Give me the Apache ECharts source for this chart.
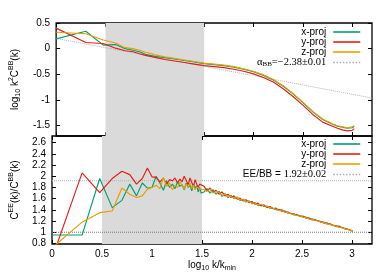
<!DOCTYPE html>
<html><head><meta charset="utf-8">
<script src="https://cdn.jsdelivr.net/npm/echarts@6/dist/echarts.min.js"></script>
<style>html,body{margin:0;padding:0;background:#fff}#c{width:390px;height:273px}</style>
</head><body><div id="c"></div>
<script>
// ---- data ----
const topX = [0, 0.301, 0.477, 0.602, 0.699, 0.778, 0.845, 0.903, 0.954, 1.0, 1.1, 1.2, 1.3, 1.4, 1.5, 1.6, 1.7, 1.8, 1.9, 2.0, 2.1, 2.2, 2.3, 2.4, 2.5, 2.6, 2.7, 2.8, 2.85, 2.9, 2.95, 3.0, 3.02];
const topXproj = [0.19,0.34,0.07,0.08,0.00,-0.03,-0.06,-0.11,-0.13,-0.15,-0.175,-0.20,-0.23,-0.26,-0.29,-0.31,-0.33,-0.36,-0.40,-0.45,-0.52,-0.61,-0.73,-0.88,-1.05,-1.23,-1.38,-1.47,-1.51,-1.53,-1.55,-1.54,-1.51];
const topYproj = [0.40,0.12,0.10,0.01,-0.04,-0.06,-0.10,-0.13,-0.15,-0.17,-0.21,-0.24,-0.27,-0.30,-0.33,-0.35,-0.37,-0.40,-0.44,-0.49,-0.56,-0.65,-0.78,-0.93,-1.10,-1.28,-1.43,-1.51,-1.55,-1.58,-1.60,-1.59,-1.56];
const topZproj = [0.32,0.29,0.17,0.11,0.02,0.00,-0.03,-0.07,-0.09,-0.12,-0.16,-0.19,-0.22,-0.25,-0.28,-0.30,-0.32,-0.35,-0.39,-0.44,-0.51,-0.60,-0.72,-0.87,-1.04,-1.22,-1.37,-1.46,-1.50,-1.52,-1.54,-1.52,-1.50];

const botX = [0,0.301,0.477,0.602,0.699,0.778,0.845,0.903,0.954,
  1.0,1.041,1.079,1.114,1.146,1.176,1.204,1.230,1.255,1.279,1.301,1.322,1.342,1.362,1.380,1.398,1.415,1.431,1.447,1.462,1.477,1.491,
  1.52,1.55,1.58,1.61,1.64,1.67,1.70,1.73,1.76,1.79,1.82,1.85,1.88,1.91,1.94,1.97,2.00,2.03,2.06,2.09,2.12,2.15,2.18,2.21,2.24,2.27,2.30,2.33,2.36,2.39,2.42,2.45,2.48,2.51,2.54,2.57,2.60,2.63,2.66,2.69,2.72,2.75,2.78,2.81,2.84,2.87,2.90,2.93,2.96,2.99,3.01];
const botXproj = [0.95,0.95,1.96,1.44,1.57,1.86,1.65,1.88,1.79,
  1.80,2.00,1.88,1.75,1.92,1.80,1.86,1.78,1.90,1.82,1.85,1.76,1.88,1.80,1.84,1.74,1.86,1.79,1.83,1.72,1.80,1.70,
  1.72,1.78,1.70,1.76,1.68,1.73,1.64,1.69,1.62,1.66,1.60,1.63,1.57,1.59,1.54,1.56,1.51,1.53,1.48,1.49,1.46,1.47,1.43,1.43,1.40,1.41,1.37,1.38,1.34,1.34,1.31,1.32,1.28,1.29,1.25,1.26,1.22,1.23,1.20,1.19,1.16,1.17,1.14,1.13,1.10,1.11,1.08,1.07,1.05,1.035,1.02];
const botYproj = [0.53,2.06,1.71,1.96,2.09,2.03,1.86,1.96,2.15,
  1.99,1.98,1.90,1.96,1.86,1.94,1.92,1.97,1.88,1.95,1.90,2.00,1.93,1.85,1.97,1.89,1.82,1.94,1.86,1.80,1.86,1.83,
  1.82,1.74,1.79,1.71,1.75,1.68,1.72,1.65,1.68,1.62,1.65,1.59,1.61,1.56,1.58,1.53,1.55,1.50,1.52,1.47,1.49,1.44,1.46,1.42,1.43,1.39,1.40,1.36,1.36,1.33,1.33,1.30,1.30,1.27,1.27,1.24,1.24,1.21,1.21,1.18,1.18,1.15,1.15,1.12,1.12,1.09,1.09,1.06,1.055,1.03,1.025];
const botZproj = [0.72,1.18,1.35,1.38,1.79,1.68,1.62,1.65,1.77,
  1.80,1.84,1.78,1.98,1.82,1.88,1.76,1.84,1.80,1.90,1.83,1.77,1.86,1.80,1.88,1.78,1.84,1.76,1.81,1.84,1.77,1.80,
  1.76,1.73,1.77,1.70,1.73,1.71,1.66,1.68,1.64,1.64,1.61,1.62,1.58,1.58,1.55,1.55,1.52,1.52,1.49,1.50,1.47,1.46,1.44,1.43,1.41,1.39,1.38,1.36,1.35,1.33,1.32,1.30,1.29,1.27,1.26,1.24,1.23,1.21,1.20,1.18,1.17,1.15,1.14,1.12,1.11,1.09,1.08,1.06,1.05,1.035,1.025];

const fitX = [0, 3.2];
const alphaFitY = [0.2, -0.96];
const eebbFitY = [1.92, 1.92];
const unityY = [1, 1];
const bandRange = [0.5, 1.5];

const xTicks = [0, 0.5, 1, 1.5, 2, 2.5, 3];
const topYTicks = [-1.5, -1, -0.5, 0, 0.5];
const botYTicks = [0.8, 1, 1.2, 1.4, 1.6, 1.8, 2, 2.2, 2.4, 2.6];

// ---- chart ----
const FONT = 'Liberation Sans';
const C_X = '#009e73', C_Y = '#e51e10', C_Z = '#e69f00';
const pairs = (xs, ys) => xs.map((x, i) => [x, ys[i]]);

const richTxt = {
  n: {fontFamily: FONT, fontSize: 10, color: '#000', lineHeight: 14},
  sub: {fontFamily: FONT, fontSize: 7, color: '#000', lineHeight: 7, verticalAlign: 'bottom'},
  sup: {fontFamily: FONT, fontSize: 7, color: '#000', lineHeight: 7, verticalAlign: 'top'}
};

function xAx(grid, pos, labels, name) {
  return {
    type: 'value', gridIndex: grid, position: pos, min: 0, max: 3.2,
    axisLine: {show: false, onZero: false}, splitLine: {show: false},
    axisTick: {show: true, inside: true, length: 4, customValues: xTicks, lineStyle: {color: '#000', width: 1}},
    axisLabel: {show: labels, customValues: xTicks, margin: 5, color: '#000', fontFamily: FONT, fontSize: 10},
    name: name || '', nameLocation: 'middle', nameGap: 14,
    nameTextStyle: {rich: richTxt}
  };
}
function yAx(grid, pos, min, max, ticks, labels, name, gap) {
  return {
    type: 'value', gridIndex: grid, position: pos, min: min, max: max,
    axisLine: {show: false, onZero: false}, splitLine: {show: false},
    axisTick: {show: true, inside: true, length: 4, customValues: ticks, lineStyle: {color: '#000', width: 1}},
    axisLabel: {show: labels, customValues: ticks, margin: 6, color: '#000', fontFamily: FONT, fontSize: 10},
    name: name || '', nameLocation: 'middle', nameGap: gap || 30,
    nameTextStyle: {rich: richTxt}
  };
}
function line(name, xi, yi, data, color, extra) {
  return Object.assign({
    type: 'line', name: name, xAxisIndex: xi, yAxisIndex: yi, data: data,
    symbol: 'none', z: 3, animation: false, clip: true,
    lineStyle: {color: color, width: 1.15}, itemStyle: {color: color}
  }, extra || {});
}
const band = (xi, yi) => ({
  type: 'line', xAxisIndex: xi, yAxisIndex: yi, data: [], z: 1, silent: true, animation: false,
  markArea: {silent: true, itemStyle: {color: '#dadada', opacity: 1},
    data: [[{xAxis: bandRange[0]}, {xAxis: bandRange[1]}]]}
});

const legendRich = {
  n: {fontFamily: FONT, fontSize: 10, color: '#000', lineHeight: 10},
  g: {fontFamily: 'Liberation Serif', fontSize: 10.5, color: '#000', lineHeight: 10},
  gs: {fontFamily: 'Liberation Serif', fontSize: 7, color: '#000', lineHeight: 7, verticalAlign: 'bottom'}
};
function legendFmt(name) {
  if (name === 'alpha') return '{g|α}{gs|BB}{g|=−2.38±0.01}';
  if (name === 'eebb') return '{n|EE/BB = }{g|1.92±0.02}';
  return '{n|' + name + '}';
}
const legendBase = {
  orient: 'vertical', align: 'right', right: 29, itemWidth: 27, itemHeight: 8, itemGap: 0,
  padding: 0, selectedMode: false, formatter: legendFmt,
  itemStyle: {opacity: 0, borderWidth: 0},
  lineStyle: {width: 1.6},
  textStyle: {rich: legendRich, padding: [0, 2, 0, 0]}
};

const option = {
  animation: false,
  backgroundColor: '#fff',
  grid: [
    {left: 48, right: 18, top: 23, height: 113, show: true, borderColor: '#000', borderWidth: 1.3},
    {left: 48, right: 18, top: 136, height: 108, show: true, borderColor: '#000', borderWidth: 1.3}
  ],
  xAxis: [
    xAx(0, 'bottom', false),
    xAx(0, 'top', false),
    xAx(1, 'bottom', true, '{n|log}{sub|10}{n| k/k}{sub|min}'),
    xAx(1, 'top', false)
  ],
  yAxis: [
    yAx(0, 'left', -1.7, 0.5, topYTicks, true, '{n|log}{sub|10}{n| k}{sup|2}{n|C}{sup|BB}{n|(k)}', 30),
    yAx(0, 'right', -1.7, 0.5, topYTicks, false),
    yAx(1, 'left', 0.79, 2.72, botYTicks, true, '{n|C}{sup|EE}{n|(k)/C}{sup|BB}{n|(k)}', 30),
    yAx(1, 'right', 0.79, 2.72, botYTicks, false)
  ],
  legend: [
    Object.assign({}, legendBase, {top: 27, data: ['x-proj', 'y-proj', 'z-proj', 'alpha']}),
    Object.assign({}, legendBase, {top: 139, data: ['x-proj', 'y-proj', 'z-proj', 'eebb']})
  ],
  series: [
    band(0, 0),
    band(2, 2),
    line('alpha', 0, 0, pairs(fitX, alphaFitY), '#b4b4b4', {lineStyle: {color: '#b4b4b4', width: 1, type: 'dotted'}, z: 2}),
    line('x-proj', 0, 0, pairs(topX, topXproj), C_X),
    line('y-proj', 0, 0, pairs(topX, topYproj), C_Y),
    line('z-proj', 0, 0, pairs(topX, topZproj), C_Z),
    line('eebb', 2, 2, pairs(fitX, eebbFitY), '#b4b4b4', {lineStyle: {color: '#b4b4b4', width: 1, type: 'dotted'}, z: 2}),
    line('unity', 2, 2, pairs(fitX, unityY), '#777', {lineStyle: {color: '#777', width: 1, type: 'dotted'}, z: 2}),
    line('x-proj', 2, 2, pairs(botX, botXproj), C_X),
    line('y-proj', 2, 2, pairs(botX, botYproj), C_Y),
    line('z-proj', 2, 2, pairs(botX, botZproj), C_Z)
  ]
};
const chart = echarts.init(document.getElementById('c'), null, {renderer: 'canvas'});
chart.setOption(option);
</script></body></html>
